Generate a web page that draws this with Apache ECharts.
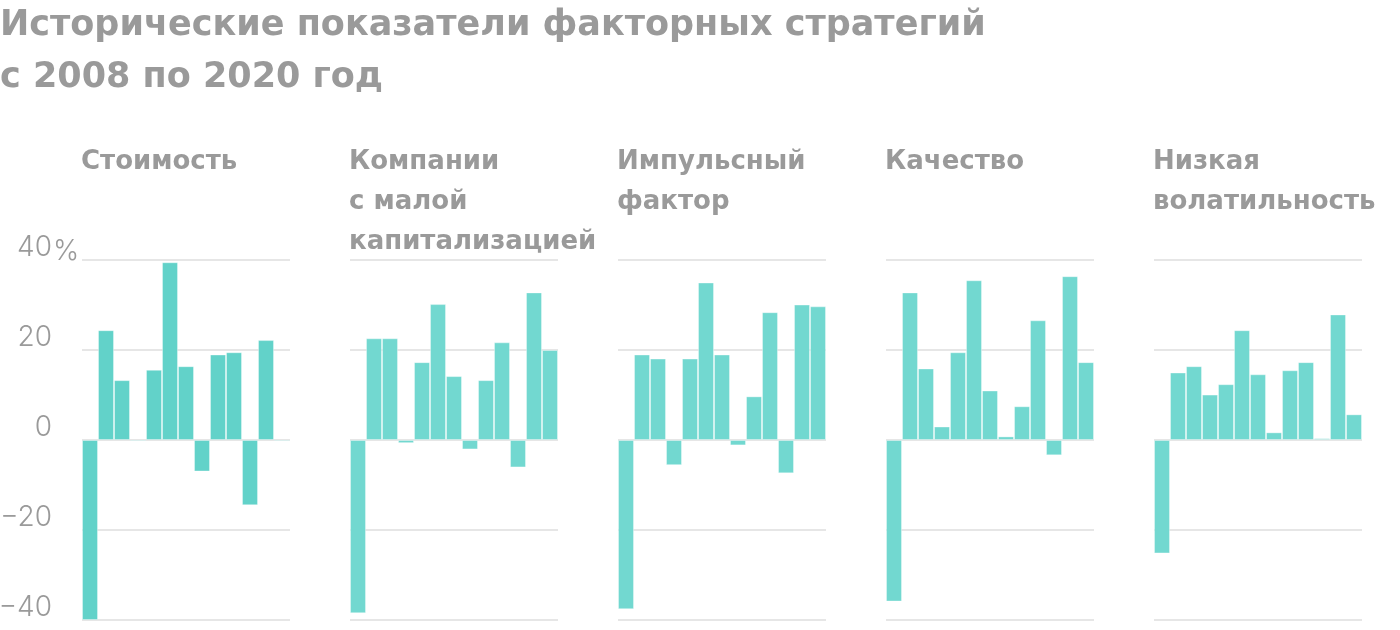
<!DOCTYPE html>
<html>
<head>
<meta charset="utf-8">
<script src="https://cdn.jsdelivr.net/npm/echarts@6/dist/echarts.min.js"></script>
<style>
html,body{margin:0;padding:0;background:#fff;}
#chart{width:1400px;height:630px;}
</style>
</head>
<body>
<div id="chart"></div>
<script>
const years = ['2008','2009','2010','2011','2012','2013','2014','2015','2016','2017','2018','2019','2020'];
const panelTitles = ['Стоимость', 'Компании\nс малой\nкапитализацией', 'Импульсный\nфактор', 'Качество', 'Низкая\nволатильность'];
const valueSeries = [-40.0, 24.4, 13.3, -0.3, 15.6, 39.5, 16.4, -7.0, 19.0, 19.5, -14.5, 22.2, -0.3];
const smallCapSeries = [-38.5, 22.6, 22.6, -0.7, 17.3, 30.2, 14.2, -2.1, 13.3, 21.7, -6.1, 32.8, 20.0];
const momentumSeries = [-37.6, 19.0, 18.1, -5.6, 18.1, 35.0, 19.0, -1.2, 9.7, 28.4, -7.4, 30.1, 29.7];
const qualitySeries = [-35.9, 32.8, 15.9, 3.0, 19.5, 35.5, 11.0, 0.8, 7.5, 26.6, -3.4, 36.4, 17.3];
const lowVolSeries = [-25.2, 15.0, 16.4, 10.1, 12.4, 24.4, 14.6, 1.7, 15.5, 17.3, 0.4, 27.9, 5.7];
const yTicks = [-40, -20, 0, 20, 40];
const mainTitle = 'Исторические показатели факторных стратегий\nс 2008 по 2020 год';

const allSeries = [valueSeries, smallCapSeries, momentumSeries, qualitySeries, lowVolSeries];
const colors = ['#62d2c9', '#72d8d0', '#72d8d0', '#72d8d0', '#72d8d0'];

const chart = echarts.init(document.getElementById('chart'), null, {renderer: 'canvas'});
const grids = [], xAxes = [], yAxes = [], series = [], titles = [];
const gray = '#9a9a9a';
titles.push({
  text: mainTitle, left: 0, top: 0, padding: 0,
  textStyle: {fontFamily: 'DejaVu Sans', fontWeight: 'bold', fontSize: 35, color: gray, lineHeight: 52}
});
for (let i = 0; i < 5; i++) {
  const left = 82 + i * 268;
  grids.push({left: left, top: 260, width: 208, height: 360, containLabel: false, outerBoundsMode: 'none'});
  xAxes.push({type: 'category', gridIndex: i, data: years, show: false});
  yAxes.push({
    type: 'value', gridIndex: i, min: -40, max: 40, interval: 20,
    axisLine: {show: false}, axisTick: {show: false},
    splitLine: {show: true, lineStyle: {color: '#e6e6e6', width: 2}},
    axisLabel: {
      show: i === 0, align: 'right', verticalAlign: 'bottom', margin: 30,
      fontFamily: 'Inter', fontWeight: 300, fontSize: 28, color: gray, lineHeight: 25,
      formatter: v => v < 0 ? '\u2212' + Math.abs(v) : String(v)
    }
  });
  series.push({
    type: 'bar', xAxisIndex: i, yAxisIndex: i, data: allSeries[i],
    barCategoryGap: 0, barGap: 0,
    itemStyle: {color: colors[i], borderColor: 'rgba(255,255,255,0.35)', borderWidth: 1},
    silent: true
  });
  titles.push({
    text: panelTitles[i], left: left - 1, top: 142, padding: 0,
    textStyle: {fontFamily: 'DejaVu Sans', fontWeight: 'bold', fontSize: 26, color: gray, lineHeight: 40}
  });
}
chart.setOption({
  animation: false,
  title: titles,
  grid: grids, xAxis: xAxes, yAxis: yAxes, series: series,
  graphic: [{type: 'text', left: 53, top: 238, style: {text: '%', fontFamily: 'Inter', fontWeight: 300, fontSize: 28, fill: gray}}]
});
</script>
</body>
</html>
